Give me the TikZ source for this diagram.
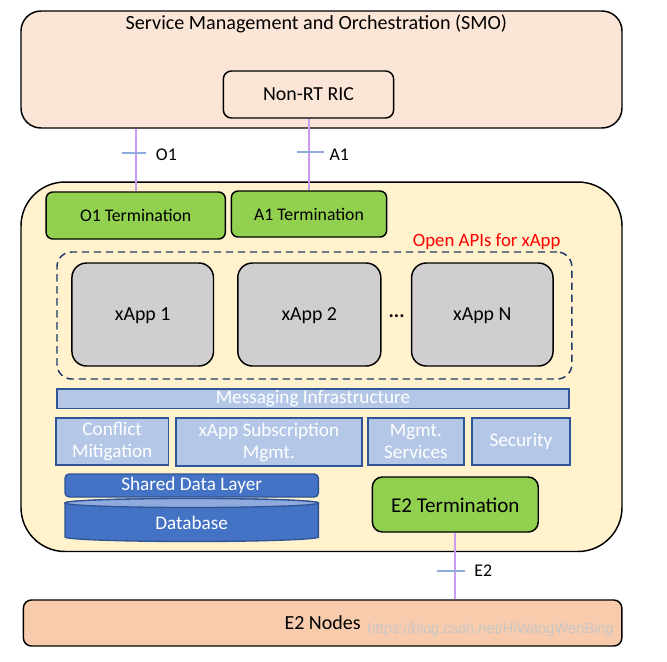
\documentclass[tikz,border=0pt]{standalone}
\usepackage{fontspec}
\setmainfont{Carlito}
\newfontfamily\wmfont{Liberation Sans}
\usetikzlibrary{calc}
\definecolor{smofill}{HTML}{FBE5D6}
\definecolor{ricfill}{HTML}{FFF2CC}
\definecolor{termgreen}{HTML}{92D050}
\definecolor{appgray}{HTML}{D0CECE}
\definecolor{lblue}{HTML}{B4C7E7}
\definecolor{bborder}{HTML}{2F5597}
\definecolor{dblue}{HTML}{4472C4}
\definecolor{dbtop}{HTML}{8FAADC}
\definecolor{nodefill}{HTML}{F8CBAD}
\definecolor{ifline}{HTML}{C99BF2}
\definecolor{tickblue}{HTML}{8FAADC}
\definecolor{dashblue}{HTML}{1F3864}
\begin{document}
\begin{tikzpicture}[x=0.75pt,y=-0.75pt,
  txt/.style={font=\fontsize{14.4}{16.5}\selectfont, inner sep=0pt, align=center},
  blk/.style={draw=black, line width=1.1pt, inner sep=0pt, align=center, font=\fontsize{14.4}{16.5}\selectfont},
  term/.style={blk, fill=termgreen, rounded corners=5pt},
  xapp/.style={blk, fill=appgray, rounded corners=11pt, minimum height=77.25pt, text height=9.2pt, text depth=0pt, font=\fontsize{14.9}{18}\selectfont},
  svc/.style={draw=bborder, line width=1.1pt, fill=lblue, text=white, inner sep=0pt, align=center, font=\fontsize{14.4}{16.5}\selectfont},
  ifc/.style={draw=ifline, line width=1.6pt},
  tick/.style={draw=tickblue, line width=1pt},
  lbl/.style={font=\fontsize{13.4}{16}\selectfont, inner sep=0pt}]
\useasboundingbox (0,0) rectangle (667,661);

% SMO
\node[blk, fill=smofill, rounded corners=15pt, minimum width=450.75pt, minimum height=87.75pt] (smo) at (321.5,69.5) {};
\node[anchor=base, inner sep=0pt, font=\fontsize{15.1}{18}\selectfont] (smotitle) at (316.4,29.3) {Service Management and Orchestration (SMO)};
\node[blk, fill=smofill, rounded corners=6pt, minimum width=127.7pt, minimum height=35.25pt, font=\fontsize{14.9}{18}\selectfont] (nonrt) at (308.5,94.5) {Non-RT RIC};

% Near-RT RIC container
\node[blk, fill=ricfill, rounded corners=33pt, minimum width=450.75pt, minimum height=277.1pt] (ric) at (321.5,366.75) {};

% terminations
\node[term, minimum width=134.4pt, minimum height=35.25pt, font=\fontsize{13.3}{16}\selectfont] (o1term) at (135.7,215.5) {O1 Termination};
\node[term, minimum width=116.5pt, minimum height=34.5pt, font=\fontsize{13.3}{16}\selectfont] (a1term) at (309,214) {A1 Termination};

% Open APIs
\node[txt, text=red, font=\fontsize{14.1}{17}\selectfont] (openapi) at (486.7,242) {Open APIs for xApp};
\node[draw=dashblue, line width=1.1pt, dash pattern=on 5.5pt off 3.5pt, rounded corners=11pt, minimum width=386.1pt, minimum height=95.25pt, inner sep=0pt] (apis) at (314.4,315.5) {};
\node[xapp, minimum width=106.2pt] (xapp1) at (142.7,314.5) {xApp 1};
\node[xapp, minimum width=107.3pt] (xapp2) at (309.3,314.5) {xApp 2};
\node[xapp, minimum width=106.1pt] (xappn) at (482.3,314.5) {xApp N};
\node[txt, font=\fontsize{15}{18}\bfseries] (dots) at (396.6,316) {...};

% platform services
\node[svc, minimum width=383.9pt, minimum height=14.8pt] (msg) at (313,398.85) {Messaging Infrastructure};
\node[svc, minimum width=84.3pt, minimum height=35.25pt] (conf) at (112.2,441.5) {Conflict\\Mitigation};
\node[svc, minimum width=139.6pt, minimum height=36pt] (subs) at (268.9,442) {xApp Subscription\\Mgmt.};
\node[svc, minimum width=72pt, minimum height=35.25pt] (mserv) at (415.9,441.5) {Mgmt.\\Services};
\node[svc, minimum width=73.6pt, minimum height=35.25pt] (sec) at (520.9,441.5) {Security};

% shared data layer and database
\node[draw=bborder, line width=1pt, fill=dblue, text=white, rounded corners=3pt, minimum width=190pt, minimum height=17.25pt, inner sep=0pt, font=\fontsize{14.4}{16.5}\selectfont] (sdl) at (191.7,485.5) {Shared Data Layer};
\draw[draw=bborder, line width=1pt, fill=dblue] (65,503) -- (65,537) arc[start angle=180, end angle=0, x radius=126.7, y radius=4.5] -- (318.4,503) arc[start angle=0, end angle=-180, x radius=126.7, y radius=4.5] -- cycle;
\draw[draw=bborder, line width=1pt, fill=dbtop] (191.7,503) ellipse [x radius=126.7, y radius=4.5];
\node[txt, text=white] (db) at (191.7,523) {Database};

% E2
\node[term, rounded corners=7.5pt, minimum width=124.4pt, minimum height=41.25pt, text height=12.5pt, text depth=0pt, font=\fontsize{15.8}{19}\selectfont] (e2term) at (455.3,504.5) {E2 Termination};
\node[blk, fill=nodefill, rounded corners=6pt, minimum width=448.8pt, minimum height=34.5pt, font=\fontsize{15}{18}\selectfont] (e2nodes) at (322.6,623) {E2 Nodes};
\node[inner sep=0pt, text=black!22, font=\wmfont\fontsize{11}{13}\selectfont] (wm) at (490.7,630) {https://blog.csdn.net/HiWangWenBing};

% interfaces
\draw[ifc] (o1term.north) -- (o1term.north |- smo.south);
\draw[ifc] (a1term.north) -- (a1term.north |- nonrt.south);
\draw[ifc] (e2term.south) -- (e2term.south |- e2nodes.north);

\coordinate (o1t) at (135.7,153);
\coordinate (a1t) at (309,152);
\coordinate (e2t) at (455.3,571);
\draw[tick] ([xshift=-10.5pt]o1t) -- ([xshift=7.5pt]o1t);
\draw[tick] ([xshift=-9pt]a1t) -- ([xshift=11.5pt]a1t);
\draw[tick] ([xshift=-13.5pt]e2t) -- ([xshift=7.5pt]e2t);
\node[lbl] (o1lbl) at (166.4,155) {O1};
\node[lbl] (a1lbl) at (339.2,155) {A1};
\node[lbl] (e2lbl) at (483.2,571) {E2};
\end{tikzpicture}
\end{document}
